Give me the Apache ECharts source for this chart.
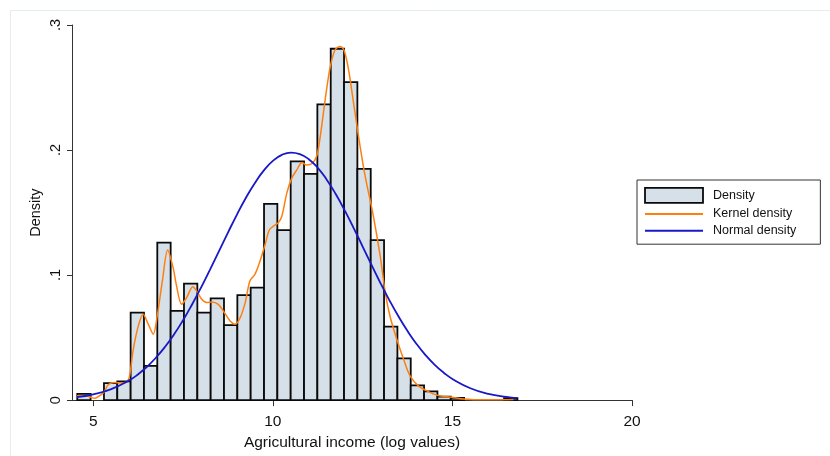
<!DOCTYPE html>
<html>
<head>
<meta charset="utf-8">
<script src="https://cdn.jsdelivr.net/npm/echarts@6/dist/echarts.min.js"></script>
<style>
html,body{margin:0;padding:0;background:#fff;}
#chart{width:830px;height:456px;}
</style>
</head>
<body>
<div id="chart"></div>
<script>
// ---- data ----
const binEdges = [4.554, 4.925, 5.297, 5.668, 6.040, 6.411, 6.782, 7.154, 7.525, 7.897,
  8.268, 8.639, 9.011, 9.382, 9.754, 10.125, 10.496, 10.868, 11.239, 11.611,
  11.982, 12.353, 12.725, 13.096, 13.468, 13.839, 14.210, 14.582, 14.953, 15.325,
  15.696, 16.067, 16.439, 16.810];
const histDensity = [0.005, 0, 0.0136, 0.015, 0.070, 0.0274, 0.126, 0.0713, 0.0931, 0.070,
  0.0814, 0.060, 0.084, 0.090, 0.157, 0.136, 0.191, 0.181, 0.2365, 0.281,
  0.2543, 0.1849, 0.128, 0.0588, 0.0333, 0.0117, 0.0069, 0.0027, 0.0018, 0,
  0, 0, 0.0016];

const kernelX = [4.55, 4.8, 4.95, 5.05, 5.2, 5.3, 5.42, 5.6, 5.75, 5.9, 6.0, 6.11, 6.25, 6.39,
  6.53, 6.67, 6.78, 6.93, 7.07, 7.23, 7.3, 7.46, 7.6, 7.77, 7.88, 8.02, 8.16, 8.3, 8.48,
  8.62, 8.81, 8.95, 9.09, 9.23, 9.36, 9.5, 9.64, 9.78, 9.9, 10.01, 10.15, 10.25, 10.39,
  10.53, 10.67, 10.81, 10.94, 11.08, 11.22, 11.32, 11.45, 11.59, 11.73, 11.87, 11.98,
  12.1, 12.24, 12.38, 12.52, 12.62, 12.8, 12.99, 13.13, 13.26, 13.45, 13.64, 13.82,
  14.05, 14.29, 14.56, 14.8, 15.03, 15.3, 15.6, 16.0, 16.4, 16.7];
const kernelY = [0.0035, 0.0035, 0.002, 0.0015, 0.004, 0.0065, 0.0125, 0.0141, 0.0138, 0.014,
  0.018, 0.040, 0.059, 0.0686, 0.0607, 0.0527, 0.0673, 0.0966, 0.120, 0.105, 0.094,
  0.0766, 0.082, 0.0907, 0.0872, 0.0806, 0.078, 0.0785, 0.0766, 0.0713, 0.0633, 0.0607,
  0.066, 0.078, 0.0952, 0.1006, 0.111, 0.124, 0.136, 0.139, 0.1418, 0.147, 0.1657,
  0.1777, 0.1843, 0.190, 0.188, 0.189, 0.195, 0.211, 0.239, 0.2655, 0.280, 0.2828, 0.280,
  0.2655, 0.239, 0.212, 0.187, 0.172, 0.147, 0.115, 0.086, 0.0673, 0.0487, 0.0327, 0.0194,
  0.0114, 0.0074, 0.004, 0.0028, 0.0021, 0.0008, 0.0003, 0.0002, 0.0003, 0.0005];

const normalX = [4.55, 5, 5.5, 6, 6.25, 6.5, 6.75, 7, 7.25, 7.5, 7.75, 8, 8.25, 8.5, 8.75,
  9, 9.25, 9.5, 9.75, 10, 10.25, 10.5, 10.75, 11, 11.25, 11.5, 11.75, 12, 12.25, 12.5,
  12.75, 13, 13.25, 13.5, 13.75, 14, 14.25, 14.5, 14.75, 15, 15.5, 16, 16.5, 16.8];
const normalY = [0.0024, 0.0046, 0.0088, 0.0158, 0.0207, 0.0268, 0.0341, 0.0427, 0.0526,
  0.0639, 0.0765, 0.0900, 0.1044, 0.1192, 0.1340, 0.1484, 0.1618, 0.1737, 0.1837, 0.1913,
  0.1961, 0.1980, 0.1968, 0.1927, 0.1858, 0.1763, 0.1648, 0.1517, 0.1376, 0.1228, 0.1079,
  0.0934, 0.0796, 0.0668, 0.0552, 0.0449, 0.0360, 0.0284, 0.0221, 0.0169, 0.0095, 0.0050,
  0.0025, 0.0016];

const xTicks = [5, 10, 15, 20];
const seriesNames = ['Density', 'Kernel density', 'Normal density'];

// ---- build options ----
const histData = histDensity.map((d, i) => [binEdges[i], binEdges[i + 1], d]);
const kernelData = kernelX.map((x, i) => [x, kernelY[i]]);
const normalData = normalX.map((x, i) => [x, normalY[i]]);

const FONT = '"Liberation Sans", Arial, sans-serif';
const BAR_FILL = '#d5e0e8';
const BAR_EDGE = '#0a0a0a';
const ORANGE = '#ff7f0e';
const BLUE = '#1818c8';
const HIDDEN = {color: 'rgba(0,0,0,0)', borderColor: 'rgba(0,0,0,0)', borderWidth: 0};

const chart = echarts.init(document.getElementById('chart'), null, {renderer: 'canvas'});
chart.setOption({
  animation: false,
  backgroundColor: '#ffffff',
  textStyle: {fontFamily: FONT},
  graphic: [{
    type: 'rect', silent: true, z: -10,
    shape: {x: 10.5, y: 10.5, width: 840, height: 460},
    style: {fill: null, stroke: '#e4eef0', lineWidth: 1}
  }],
  grid: {left: 72, right: 198, top: 25, bottom: 55, containLabel: false},
  legend: {
    orient: 'vertical',
    left: 637, top: 180,
    padding: [7, 24, 7, 7],
    itemWidth: 58, itemHeight: 15, itemGap: 3.7,
    borderColor: '#333', borderWidth: 1,
    textStyle: {fontFamily: FONT, fontSize: 12.5, color: '#111', padding: [0, 0, 0, 5]},
    data: [
      {name: seriesNames[0], icon: 'rect', itemStyle: {color: BAR_FILL, borderColor: BAR_EDGE, borderWidth: 1.8}},
      {name: seriesNames[1], itemStyle: HIDDEN},
      {name: seriesNames[2], itemStyle: HIDDEN}
    ]
  },
  xAxis: {
    type: 'value', min: 4.407, max: 20,
    name: 'Agricultural income (log values)', nameLocation: 'middle', nameGap: 33,
    nameTextStyle: {fontFamily: FONT, fontSize: 15.5, color: '#111'},
    axisLine: {lineStyle: {color: '#333', width: 1}},
    axisTick: {show: true, length: 6, lineStyle: {color: '#333'}, customValues: xTicks},
    axisLabel: {fontFamily: FONT, fontSize: 15.5, color: '#111', margin: 14, customValues: xTicks},
    splitLine: {show: false}
  },
  yAxis: {
    type: 'value', min: 0, max: 0.3, interval: 0.1,
    name: 'Density', nameLocation: 'middle', nameGap: 29, nameRotate: 90,
    nameMoveOverlap: false,
    nameTextStyle: {fontFamily: FONT, fontSize: 14.5, color: '#111'},
    axisLine: {show: true, lineStyle: {color: '#333', width: 1}},
    axisTick: {show: true, length: 5, lineStyle: {color: '#333'}},
    axisLabel: {
      fontFamily: FONT, fontSize: 14.5, color: '#111', rotate: 90, margin: 9,
      formatter: v => v === 0 ? '0' : String(Math.round(v * 10) / 10).replace(/^0\./, '.')
    },
    splitLine: {show: false}
  },
  series: [
    {
      name: seriesNames[0], type: 'custom',
      itemStyle: {color: BAR_FILL, borderColor: BAR_EDGE, borderWidth: 1.8},
      encode: {x: [0, 1], y: 2},
      data: histData,
      renderItem: function (params, api) {
        const h = api.value(2);
        if (!(h > 0)) return null;
        const p0 = api.coord([api.value(0), h]);
        const p1 = api.coord([api.value(1), 0]);
        return {
          type: 'rect',
          shape: {x: p0[0], y: p0[1], width: p1[0] - p0[0], height: p1[1] - p0[1]},
          style: {fill: BAR_FILL, stroke: BAR_EDGE, lineWidth: 1.8}
        };
      },
      z: 1
    },
    {
      name: seriesNames[1], type: 'line', data: kernelData,
      symbol: 'none', smooth: 0.3,
      lineStyle: {color: ORANGE, width: 1.5}, itemStyle: {color: ORANGE}, z: 3
    },
    {
      name: seriesNames[2], type: 'line', data: normalData,
      symbol: 'none', smooth: true,
      lineStyle: {color: BLUE, width: 1.8}, itemStyle: {color: BLUE}, z: 4
    }
  ]
});
</script>
</body>
</html>
